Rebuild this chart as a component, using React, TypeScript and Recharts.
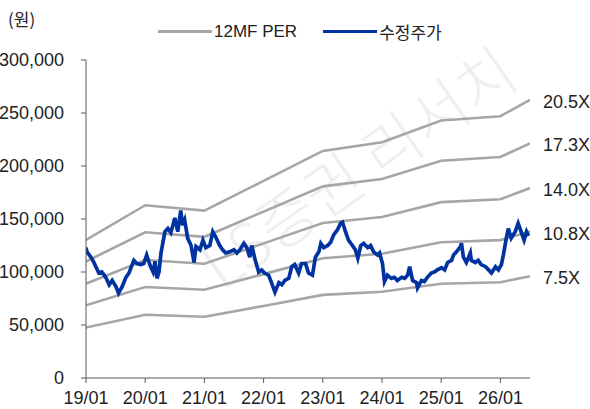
import { LineChart, Line, XAxis, YAxis } from 'recharts'

// x values are months since 2019/01
const yearTicks = [0, 12, 24, 36, 48, 60, 72, 84]
const yearLabels = ['19/01', '20/01', '21/01', '22/01', '23/01', '24/01', '25/01', '26/01']
const yTicks = [0, 50000, 100000, 150000, 200000, 250000, 300000]

// 12MF PER bands (원)
const bandMonths = [0, 12, 24, 36, 48, 60, 72, 84, 90]
const band205 = [130200, 163000, 157900, 186000, 214200, 222400, 242900, 247000, 262400]
const band173 = [109900, 137500, 133200, 157000, 180800, 187700, 205000, 208500, 221400]
const band140 = [88900, 111300, 107800, 127000, 146300, 151900, 165900, 168700, 179200]
const band108 = [68600, 85900, 83200, 98000, 112900, 117200, 128000, 130100, 138200]
const band75 = [47600, 59600, 57800, 68000, 78400, 81400, 88900, 90400, 96000]
const bandNames = ['20.5X', '17.3X', '14.0X', '10.8X', '7.5X']

// 수정주가 (원)
const priceMonths = [
  0, 0.2, 1.0, 1.6, 2.0, 2.6, 3.2, 4.0, 4.7, 5.3, 6.1, 6.6, 7.3, 8.1, 8.7, 9.7, 10.3, 11.1, 11.7,
  12.3, 13.0, 13.6, 14.0, 14.4, 14.8, 15.2, 16.0, 16.6, 17.2, 18.0, 18.6, 19.2, 19.6, 20.0, 20.6,
  21.3, 21.9, 22.3, 23.1, 23.7, 24.3, 25.1, 25.7, 26.3, 27.1, 27.7, 28.3, 29.1, 30.0, 30.6, 31.2,
  32.0, 32.6, 33.2, 33.6, 34.2, 35.0, 35.6, 36.2, 37.0, 37.6, 38.3, 39.1, 39.7, 40.3, 41.1, 41.7,
  42.3, 43.1, 43.7, 44.5, 45.1, 45.9, 46.5, 47.2, 47.6, 48.2, 49.0, 49.6, 50.2, 51.0, 51.6, 52.0,
  52.6, 53.2, 54.0, 54.6, 55.1, 55.7, 56.3, 57.1, 57.7, 58.3, 59.1, 59.5, 60.1, 60.5, 61.1, 61.9,
  62.5, 63.1, 64.0, 64.6, 65.2, 65.6, 66.2, 67.0, 67.2, 68.0, 68.6, 69.2, 70.0, 70.6, 71.2, 72.1,
  72.7, 73.3, 74.1, 74.5, 75.1, 75.9, 76.1, 76.5, 77.1, 77.9, 78.1, 78.9, 79.5, 80.1, 81.0, 81.6,
  82.2, 83.0, 83.6, 84.2, 84.6, 85.2, 85.6, 86.2, 87.0, 87.6, 88.2, 88.8, 89.3, 89.7,
]
const priceValues = [
  123000, 119000, 114000, 109000, 105000, 99000, 100000, 95000, 88000, 92000, 86000, 80000, 86000,
  95000, 99000, 111000, 108000, 107000, 108000, 116000, 106000, 100000, 110000, 94000, 100000,
  118000, 138000, 141000, 137000, 151000, 138000, 158000, 144000, 149000, 132000, 125000, 109000,
  124000, 121000, 130000, 123000, 125000, 138000, 133000, 125000, 121000, 118000, 119000, 121000,
  118000, 121000, 127000, 123000, 114000, 125000, 113000, 100000, 102000, 99000, 97000, 90000,
  81000, 90000, 88000, 92000, 94000, 105000, 107000, 99000, 108000, 108000, 99000, 97000, 114000,
  119000, 127000, 123000, 125000, 128000, 135000, 140000, 146000, 147000, 138000, 130000, 125000,
  121000, 113000, 125000, 127000, 123000, 125000, 119000, 116000, 118000, 108000, 91000, 97000,
  94000, 95000, 92000, 95000, 94000, 97000, 105000, 92000, 90000, 85000, 92000, 91000, 95000,
  99000, 100000, 102000, 104000, 102000, 109000, 111000, 116000, 119000, 124000, 127000, 114000,
  109000, 118000, 111000, 109000, 111000, 107000, 105000, 102000, 99000, 105000, 102000, 107000,
  116000, 132000, 141000, 132000, 138000, 146000, 138000, 130000, 138000, 134000,
]

const bandData = bandMonths.map((m, i) => ({
  m,
  b205: band205[i],
  b173: band173[i],
  b140: band140[i],
  b108: band108[i],
  b75: band75[i],
}))
const priceData = priceMonths.map((m, i) => ({ m, price: priceValues[i] }))

const narrow = "'Liberation Sans Narrow', 'Arial Narrow', 'Liberation Sans', sans-serif"
const korean = "'Noto Sans CJK KR', sans-serif"
const bandKeys = ['b205', 'b173', 'b140', 'b108', 'b75']

const endLabel = (name: string) => (props: any) => {
  if (props.index !== bandMonths.length - 1) return null
  return (
    <text x={props.x + 13} y={props.y} dy={8} fontSize={18} fontFamily={narrow} fill="#222">
      {name}
    </text>
  )
}

export default function App() {
  return (
    <div style={{ position: 'absolute', left: 0, top: 0, width: 590, height: 409, background: '#fff', overflow: 'hidden' }}>
      {/* watermark */}
      <svg width={590} height={409} style={{ position: 'absolute', left: 0, top: 0 }}>
        <text
          x={222}
          y={292}
          transform="rotate(-35 222 292)"
          fontSize={62}
          fontFamily={korean}
          fontWeight={300}
          fill="#efefef"
        >
          LS증권 리서치
        </text>
      </svg>
      <div style={{ position: 'absolute', left: 8, top: 6, fontSize: 17, fontFamily: korean, color: '#222' }}>(원)</div>
      <div style={{ position: 'absolute', left: 158, top: 19, display: 'flex', alignItems: 'center', fontSize: 17, color: '#222' }}>
        <span style={{ width: 54, height: 3, background: '#a6a6a6', display: 'inline-block' }} />
        <span style={{ marginLeft: 2, fontFamily: "'Liberation Sans', Arial, sans-serif" }}>12MF PER</span>
        <span style={{ width: 54, height: 3, background: '#0033a0', display: 'inline-block', marginLeft: 26 }} />
        <span style={{ marginLeft: 2, fontFamily: korean }}>수정주가</span>
      </div>
      <div style={{ position: 'absolute', left: 0, top: 0 }}>
        <LineChart width={590} height={409} margin={{ top: 60, right: 60, bottom: 0, left: 0 }}>
          <XAxis
            type="number"
            dataKey="m"
            domain={[0, 90]}
            ticks={yearTicks}
            interval={0}
            allowDataOverflow
            tickFormatter={(v: number) => yearLabels[yearTicks.indexOf(v)]}
            height={31}
            tickSize={5}
            tickMargin={8}
            stroke="#595959"
            tick={{ fontSize: 18, fill: '#222', fontFamily: narrow }}
          />
          <YAxis
            domain={[0, 300000]}
            ticks={yTicks}
            interval={0}
            width={86}
            tickSize={5}
            tickMargin={17}
            stroke="#595959"
            tickFormatter={(v: number) => v.toLocaleString('en-US')}
            tick={{ fontSize: 18, fill: '#222', fontFamily: narrow }}
          />
          {bandKeys.map((k, i) => (
            <Line
              key={k}
              data={bandData}
              dataKey={k}
              type="linear"
              stroke="#a6a6a6"
              strokeWidth={2.6}
              dot={false}
              isAnimationActive={false}
              label={endLabel(bandNames[i])}
            />
          ))}
          <Line
            data={priceData}
            dataKey="price"
            type="linear"
            stroke="#0033a0"
            strokeWidth={3.7}
            dot={false}
            isAnimationActive={false}
          />
        </LineChart>
      </div>
    </div>
  )
}
